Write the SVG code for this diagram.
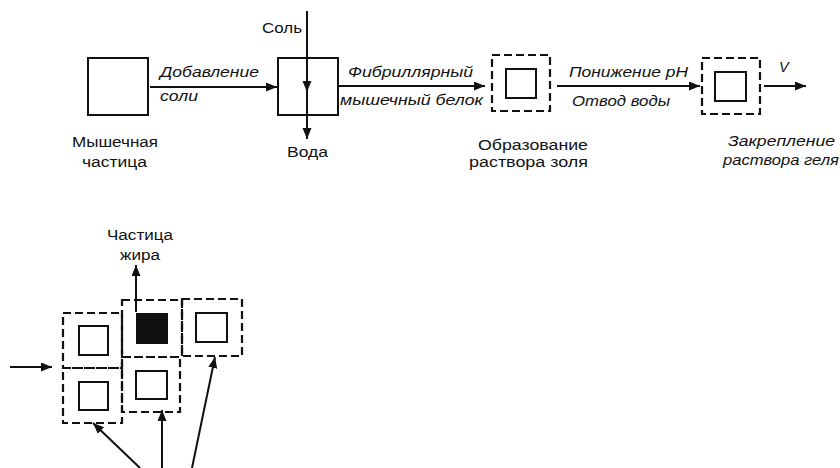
<svg xmlns="http://www.w3.org/2000/svg" width="840" height="468" viewBox="0 0 840 468">
<defs>
<style>
.bg{fill:#fff}
.box{fill:none;stroke:#111;stroke-width:2}
.dash{fill:none;stroke:#111;stroke-width:2.2;stroke-dasharray:8 4}
.fill{fill:#111;stroke:#111;stroke-width:2}
.ln{fill:none;stroke:#111;stroke-width:2}
.t{font-family:"Liberation Sans",Arial,sans-serif;font-size:15.5px;fill:#111}
.i{font-family:"Liberation Sans",Arial,sans-serif;font-size:14.5px;font-style:italic;fill:#111}
</style>
<marker id="ah" markerUnits="userSpaceOnUse" markerWidth="12" markerHeight="10" refX="11" refY="4.5" orient="auto">
<path d="M0,0 L11,4.5 L0,9 z" fill="#111"/>
</marker>
</defs>
<rect class="bg" x="0" y="0" width="840" height="468"/>

<g id="connectors">
<path class="ln" d="M150,87 H277" marker-end="url(#ah)"/>
<path class="ln" d="M338,86 H485" marker-end="url(#ah)"/>
<path class="ln" d="M557,86 H700" marker-end="url(#ah)"/>
<path class="ln" d="M764,86 H806" marker-end="url(#ah)"/>
<path class="ln" d="M307,11 V92" marker-end="url(#ah)"/>
<path class="ln" d="M307,90 V139" marker-end="url(#ah)"/>
<path class="ln" d="M136,312 V265" marker-end="url(#ah)"/>
<path class="ln" d="M10,367 H52" marker-end="url(#ah)"/>
<path class="ln" d="M140,468 L93,423" marker-end="url(#ah)"/>
<path class="ln" d="M162,468 V410" marker-end="url(#ah)"/>
<path class="ln" d="M192,468 L215,357" marker-end="url(#ah)"/>
</g>

<g id="muscle-particle">
<rect class="box" x="88" y="58" width="60" height="57"/>
<text class="t" x="72" y="147" textLength="86" lengthAdjust="spacingAndGlyphs">Мышечная</text>
<text class="t" x="82" y="167" textLength="65" lengthAdjust="spacingAndGlyphs">частица</text>
</g>

<g id="salt-step">
<rect class="box" x="278" y="58" width="60" height="57"/>
<text class="t" x="262" y="33" textLength="40" lengthAdjust="spacingAndGlyphs">Соль</text>
<text class="t" x="287" y="157" textLength="41" lengthAdjust="spacingAndGlyphs">Вода</text>
</g>

<g id="labels-arrows">
<text class="i" x="160" y="77" textLength="99" lengthAdjust="spacingAndGlyphs">Добавление</text>
<text class="i" x="160" y="101" textLength="38" lengthAdjust="spacingAndGlyphs">соли</text>
<text class="i" x="348" y="77" textLength="125" lengthAdjust="spacingAndGlyphs">Фибриллярный</text>
<text class="i" x="340" y="105" textLength="143" lengthAdjust="spacingAndGlyphs">мышечный белок</text>
<text class="i" x="569" y="77" textLength="119" lengthAdjust="spacingAndGlyphs">Понижение pH</text>
<text class="i" x="572" y="106" textLength="98" lengthAdjust="spacingAndGlyphs">Отвод воды</text>
<text class="i" x="779" y="72" font-size="15">V</text>
</g>

<g id="sol">
<rect class="dash" x="492" y="55" width="58" height="56"/>
<rect class="box" x="506" y="69" width="30" height="29"/>
<text class="t" x="478" y="150" textLength="110" lengthAdjust="spacingAndGlyphs">Образование</text>
<text class="t" x="469" y="167" textLength="119" lengthAdjust="spacingAndGlyphs">раствора золя</text>
</g>

<g id="gel">
<rect class="dash" x="702" y="58" width="58" height="56"/>
<rect class="box" x="715" y="72" width="31" height="29"/>
<text class="i" x="728" y="146" textLength="107" lengthAdjust="spacingAndGlyphs">Закрепление</text>
<text class="i" x="723" y="165" textLength="116" lengthAdjust="spacingAndGlyphs">раствора геля</text>
</g>

<g id="emulsion">
<rect class="dash" x="63" y="313" width="59" height="55"/>
<rect class="dash" x="122" y="300" width="60" height="57"/>
<rect class="dash" x="182" y="299" width="60" height="57"/>
<rect class="dash" x="63" y="368" width="59" height="55"/>
<rect class="dash" x="122" y="357" width="58" height="55"/>
<rect class="box" x="79" y="326" width="29" height="29"/>
<rect class="fill" x="137" y="314" width="30" height="29"/>
<rect class="box" x="196" y="313" width="31" height="29"/>
<rect class="box" x="79" y="382" width="29" height="28"/>
<rect class="box" x="136" y="371" width="31" height="28"/>
</g>

<g id="fat-particle">
<text class="t" x="107" y="240" textLength="66" lengthAdjust="spacingAndGlyphs">Частица</text>
<text class="t" x="120" y="260" textLength="40" lengthAdjust="spacingAndGlyphs">жира</text>
</g>
</svg>
